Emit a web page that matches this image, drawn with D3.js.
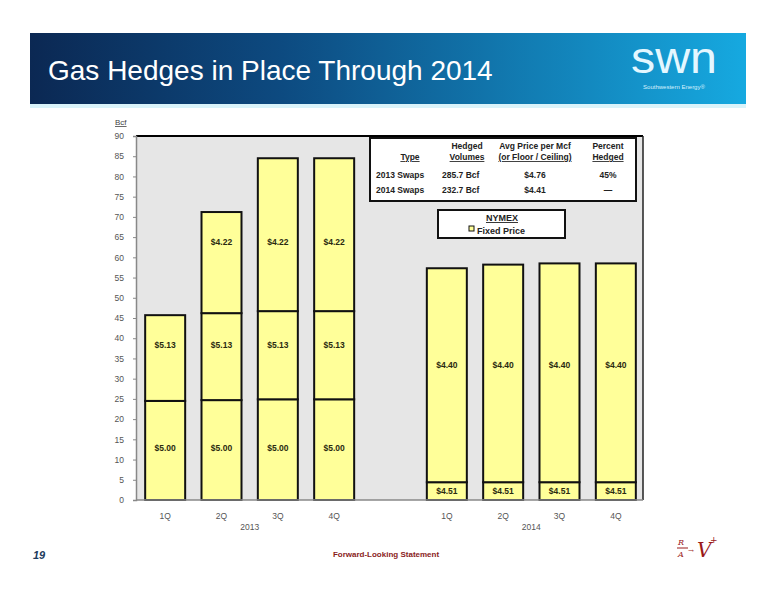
<!DOCTYPE html>
<html><head><meta charset="utf-8">
<script src="https://cdn.jsdelivr.net/npm/d3@7"></script>
<style>body{margin:0;background:#fff}svg{display:block}</style>
</head><body>
<svg id="c" width="776" height="600"></svg>
<script>
// ---- data ----
const categories = ["2013 1Q","2013 2Q","2013 3Q","2013 4Q","gap","2014 1Q","2014 2Q","2014 3Q","2014 4Q"];
const quarterLabels = ["1Q","2Q","3Q","4Q","","1Q","2Q","3Q","4Q"];
const yearLabels = ["2013","2014"];
const s500 = [24.5, 24.7, 24.9, 24.9, 0, 0, 0, 0, 0];
const s513 = [21.2, 21.5, 21.8, 21.8, 0, 0, 0, 0, 0];
const s422 = [0, 25.0, 37.8, 37.8, 0, 0, 0, 0, 0];
const s451 = [0, 0, 0, 0, 0, 4.4, 4.4, 4.4, 4.4];
const s440 = [0, 0, 0, 0, 0, 52.9, 53.8, 54.1, 54.1];
const seriesNames = ["$5.00","$5.13","$4.22","$4.51","$4.40"];
const yTicks = [0,5,10,15,20,25,30,35,40,45,50,55,60,65,70,75,80,85,90];
const tableHeader = [["Type"],["Hedged","Volumes"],["Avg Price per Mcf","(or Floor / Ceiling)"],["Percent","Hedged"]];
const tableRows = [["2013 Swaps","285.7 Bcf","$4.76","45%"],["2014 Swaps","232.7 Bcf","$4.41","\u2014"]];
// label levels (Bcf) at which each series' price label sits
const labelLevel = {"$5.00":12.9,"$5.13":38.2,"$4.22":63.9,"$4.51":2.2,"$4.40":33.3};

const svg = d3.select("#c");
const font = "Liberation Sans, Arial, sans-serif";

// ---- header ----
const defs = svg.append("defs");
const g1 = defs.append("linearGradient").attr("id","hg").attr("x1","0").attr("x2","1");
g1.append("stop").attr("offset","0").attr("stop-color","#0b2853");
g1.append("stop").attr("offset","0.35").attr("stop-color","#0d4a80");
g1.append("stop").attr("offset","1").attr("stop-color","#16a9e0");
svg.append("rect").attr("x",30).attr("y",33).attr("width",716).attr("height",71).attr("fill","url(#hg)");
svg.append("rect").attr("x",30).attr("y",104).attr("width",716).attr("height",4).attr("fill","#d9f3fa");
svg.append("text").attr("x",48).attr("y",80).attr("font-family",font).attr("font-size",28)
  .attr("fill","#fff").text("Gas Hedges in Place Through 2014");
svg.append("text").attr("x",674).attr("y",73).attr("text-anchor","middle").attr("font-family",font)
  .attr("font-size",44).attr("fill","#e4f7ff").attr("textLength",86).attr("lengthAdjust","spacingAndGlyphs").text("swn");
svg.append("text").attr("x",674).attr("y",89).attr("text-anchor","middle").attr("font-family",font)
  .attr("font-size",6).attr("fill","#d8f2ff").text("Southwestern Energy\u00ae");

// ---- chart ----
const x0 = 136, x1 = 643, yTop = 136, yBot = 500;
const x = d3.scaleBand().domain(categories).range([x0+1, x1+1]).paddingInner(0.29).paddingOuter(0.145);
const y = d3.scaleLinear().domain([0,90]).range([yBot, yTop]);

svg.append("rect").attr("x",x0).attr("y",yTop).attr("width",x1-x0).attr("height",yBot-yTop).attr("fill","#e6e6e6");
svg.append("line").attr("x1",x0).attr("x2",x1).attr("y1",yTop).attr("y2",yTop).attr("stroke","#000").attr("stroke-width",2);
svg.append("line").attr("x1",x1).attr("x2",x1).attr("y1",yTop).attr("y2",yBot).attr("stroke","#222").attr("stroke-width",1.5);

// stacked bars
const rows = categories.map((c,i)=>({cat:c,"$5.00":s500[i],"$5.13":s513[i],"$4.22":s422[i],"$4.51":s451[i],"$4.40":s440[i]}));
const stacked = d3.stack().keys(seriesNames)(rows);
stacked.forEach(layer=>{
  const name = layer.key;
  layer.forEach((d,i)=>{
    const v = d[1]-d[0];
    if (v <= 0) return;
    svg.append("rect").attr("x",x(categories[i])).attr("width",x.bandwidth())
      .attr("y",y(d[1])).attr("height",y(d[0])-y(d[1]))
      .attr("fill","#ffff99").attr("stroke","#111").attr("stroke-width",2);
    svg.append("text").attr("x",x(categories[i])+x.bandwidth()/2).attr("y",y(labelLevel[name]))
      .attr("dy","0.35em").attr("text-anchor","middle").attr("font-family",font).attr("font-weight","bold")
      .attr("font-size",8.5).attr("fill","#2a2a10").text(name);
  });
});

// axes
const yAxis = d3.axisLeft(y).tickValues(yTicks).tickSize(3).tickPadding(9).tickFormat(d3.format("d"));
const ga = svg.append("g").attr("transform",`translate(${x0},0)`).call(yAxis);
ga.select(".domain").attr("stroke","#888").attr("stroke-width",1.5);
ga.selectAll(".tick line").attr("stroke","#888");
ga.selectAll("text").attr("font-family",font).attr("font-size",8.5).attr("fill","#555");
svg.append("line").attr("x1",x0).attr("x2",x1).attr("y1",yBot).attr("y2",yBot).attr("stroke","#888").attr("stroke-width",1.5);

svg.append("text").attr("x",115).attr("y",125).attr("font-family",font).attr("font-size",8)
  .attr("fill","#444").attr("text-decoration","underline").text("Bcf");

categories.forEach((c,i)=>{
  if(!quarterLabels[i]) return;
  svg.append("text").attr("x",x(c)+x.bandwidth()/2).attr("y",519).attr("text-anchor","middle")
    .attr("font-family",font).attr("font-size",8.5).attr("fill","#555").text(quarterLabels[i]);
});
[[1,2],[6,7]].forEach((p,k)=>{
  const cx = (x(categories[p[0]])+x(categories[p[1]]))/2 + x.bandwidth()/2;
  svg.append("text").attr("x",cx).attr("y",530).attr("text-anchor","middle")
    .attr("font-family",font).attr("font-size",8.5).attr("fill","#555").text(yearLabels[k]);
});

// ---- table ----
svg.append("rect").attr("x",370).attr("y",138).attr("width",266).attr("height",63)
  .attr("fill","#fff").attr("stroke","#111").attr("stroke-width",2);
const colX = [410, 467, 535, 608];
tableHeader.forEach((lines,j)=>{
  lines.forEach((t,k)=>{
    const yy = lines.length===1 ? 160 : 149 + k*11;
    svg.append("text").attr("x",colX[j]).attr("y",yy).attr("text-anchor","middle")
      .attr("font-family",font).attr("font-weight","bold").attr("font-size",8.5).attr("fill","#222")
      .attr("text-decoration", (k===lines.length-1)?"underline":null).text(t);
  });
});
const rowAnchor = [["start",376],["start",442],["middle",535],["middle",608]];
tableRows.forEach((r,i)=>{
  r.forEach((t,j)=>{
    svg.append("text").attr("x",rowAnchor[j][1]).attr("y",178+i*15).attr("text-anchor",rowAnchor[j][0])
      .attr("font-family",font).attr("font-weight","bold").attr("font-size",8.5).attr("fill","#222").text(t);
  });
});

// ---- legend ----
svg.append("rect").attr("x",438).attr("y",210).attr("width",127).attr("height",28)
  .attr("fill","#fff").attr("stroke","#111").attr("stroke-width",2);
svg.append("text").attr("x",502).attr("y",221).attr("text-anchor","middle").attr("font-family",font)
  .attr("font-weight","bold").attr("font-size",9).attr("fill","#222").attr("text-decoration","underline").text("NYMEX");
svg.append("rect").attr("x",469).attr("y",226).attr("width",5).attr("height",5)
  .attr("fill","#ffff99").attr("stroke","#111").attr("stroke-width",1);
svg.append("text").attr("x",477).attr("y",234).attr("font-family",font)
  .attr("font-weight","bold").attr("font-size",9).attr("fill","#222").text("Fixed Price");

// ---- footer ----
svg.append("text").attr("x",33).attr("y",559).attr("font-family",font).attr("font-style","italic")
  .attr("font-weight","bold").attr("font-size",11).attr("fill","#203a5c").text("19");
svg.append("text").attr("x",386).attr("y",557).attr("text-anchor","middle").attr("font-family",font)
  .attr("font-weight","bold").attr("font-size",8).attr("fill","#8a1c1c").text("Forward-Looking Statement");
const ic = svg.append("g").attr("fill","#9a1a1a").attr("font-family","DejaVu Serif, serif").attr("font-style","italic");
ic.append("text").attr("x",678).attr("y",545).attr("font-size",8).text("R");
ic.append("line").attr("x1",677).attr("x2",688).attr("y1",548).attr("y2",548).attr("stroke","#9a1a1a");
ic.append("text").attr("x",678).attr("y",557).attr("font-size",8).text("A");
ic.append("text").attr("x",688).attr("y",553).attr("font-size",7).text("\u2192");
ic.append("text").attr("x",697).attr("y",557).attr("font-size",20).text("V");
ic.append("text").attr("x",710).attr("y",543).attr("font-size",9).text("+");
</script>
</body></html>
